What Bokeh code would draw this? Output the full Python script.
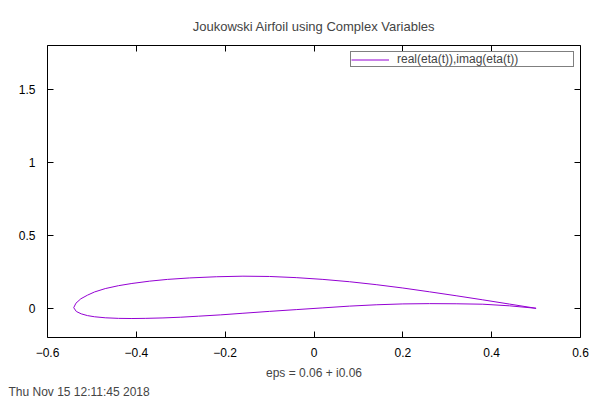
from bokeh.plotting import figure
from bokeh.models import Range1d, FixedTicker, LinearAxis, Legend, LegendItem, Title
from bokeh.embed import file_html
from bokeh.resources import INLINE

title_text = "Joukowski Airfoil using Complex Variables"
x_label = "eps = 0.06 + i0.06"
timestamp = "Thu Nov 15 12:11:45 2018"
series_name = "real(eta(t)),imag(eta(t))"

# upper surface, leading edge -> trailing edge
x_upper = [-0.541, -0.536, -0.525, -0.510, -0.494, -0.470, -0.440, -0.410, -0.370, -0.330,
           -0.280, -0.220, -0.160, -0.100, -0.040, 0.020, 0.080, 0.140, 0.200, 0.260,
           0.320, 0.380, 0.440, 0.500]
y_upper = [0.004, 0.035, 0.065, 0.090, 0.112, 0.135, 0.155, 0.170, 0.186, 0.198,
           0.208, 0.216, 0.220, 0.218, 0.210, 0.198, 0.182, 0.162, 0.139, 0.113,
           0.086, 0.058, 0.029, 0.000]
# lower surface, leading edge -> trailing edge
x_lower = [-0.541, -0.535, -0.524, -0.510, -0.494, -0.470, -0.440, -0.410, -0.380, -0.340,
           -0.300, -0.260, -0.210, -0.160, -0.100, -0.040, 0.020, 0.080, 0.140, 0.200,
           0.260, 0.320, 0.380, 0.440, 0.500]
y_lower = [0.004, -0.022, -0.038, -0.050, -0.058, -0.065, -0.069, -0.070, -0.069, -0.066,
           -0.061, -0.054, -0.045, -0.034, -0.021, -0.009, 0.003, 0.015, 0.024, 0.030,
           0.032, 0.031, 0.028, 0.017, 0.000]

x_ticks = [-0.6, -0.4, -0.2, 0.0, 0.2, 0.4, 0.6]
x_tick_labels = ["\u22120.6", "\u22120.4", "\u22120.2", "0", "0.2", "0.4", "0.6"]
y_ticks = [0.0, 0.5, 1.0, 1.5]
y_tick_labels = ["0", "0.5", "1", "1.5"]

FONT = "Liberation Sans"
FS = "12px"

p = figure(width=600, height=400, output_backend="svg", toolbar_location=None,
           x_range=Range1d(-0.6, 0.6), y_range=Range1d(-0.2, 1.8),
           min_border_left=47, min_border_right=20, min_border_top=45, min_border_bottom=63)
p.grid.visible = False
p.outline_line_color = "black"
p.outline_line_width = 1
p.background_fill_color = "white"
p.border_fill_color = "white"

xs = x_upper[::-1] + x_lower[1:]
ys = y_upper[::-1] + y_lower[1:]
r = p.line(xs, ys, line_color="#9400d3", line_width=1)

def style_axis(ax, ticks, labels=None):
    ax.ticker = FixedTicker(ticks=ticks)
    ax.axis_line_color = None
    ax.major_tick_in = 6
    ax.major_tick_out = 0
    ax.minor_tick_in = 0
    ax.minor_tick_out = 0
    ax.major_tick_line_color = "black"
    ax.major_label_text_font = FONT
    ax.major_label_text_font_size = FS
    ax.major_label_text_color = "black"
    if labels is not None:
        ax.major_label_overrides = dict(zip(ticks, labels))
    else:
        # mirrored ticks only, no labels drawn
        ax.major_label_text_color = None
        ax.major_label_text_font_size = "1px"
        ax.major_label_standoff = 0

style_axis(p.xaxis[0], x_ticks, x_tick_labels)
style_axis(p.yaxis[0], y_ticks, y_tick_labels)
p.xaxis.major_label_standoff = 10
p.yaxis.major_label_standoff = 12
p.xaxis.axis_label = x_label
p.xaxis.axis_label_text_font = FONT
p.xaxis.axis_label_text_font_size = FS
p.xaxis.axis_label_text_font_style = "normal"
p.xaxis.axis_label_standoff = 6

top = LinearAxis()
style_axis(top, x_ticks)
p.add_layout(top, "above")
right = LinearAxis()
style_axis(right, y_ticks)
p.add_layout(right, "right")

p.title.text = title_text
p.title.align = "center"
p.title.text_font = FONT
p.title.text_font_size = "13px"
p.title.text_font_style = "normal"
p.title.standoff = 24

legend = Legend(items=[LegendItem(label=series_name, renderers=[r])],
                location="top_right", margin=6, padding=0, spacing=0,
                glyph_width=38, glyph_height=11, label_height=11, label_width=176,
                label_standoff=8, label_text_font=FONT, label_text_font_size=FS,
                border_line_color="black", border_line_width=1, background_fill_alpha=1)
p.add_layout(legend)

stamp = Title(text=timestamp, align="left", offset=-39, standoff=1,
              text_font=FONT, text_font_size=FS, text_font_style="normal")
p.add_layout(stamp, "below")

open("out.html", "w").write(file_html(p, INLINE))
